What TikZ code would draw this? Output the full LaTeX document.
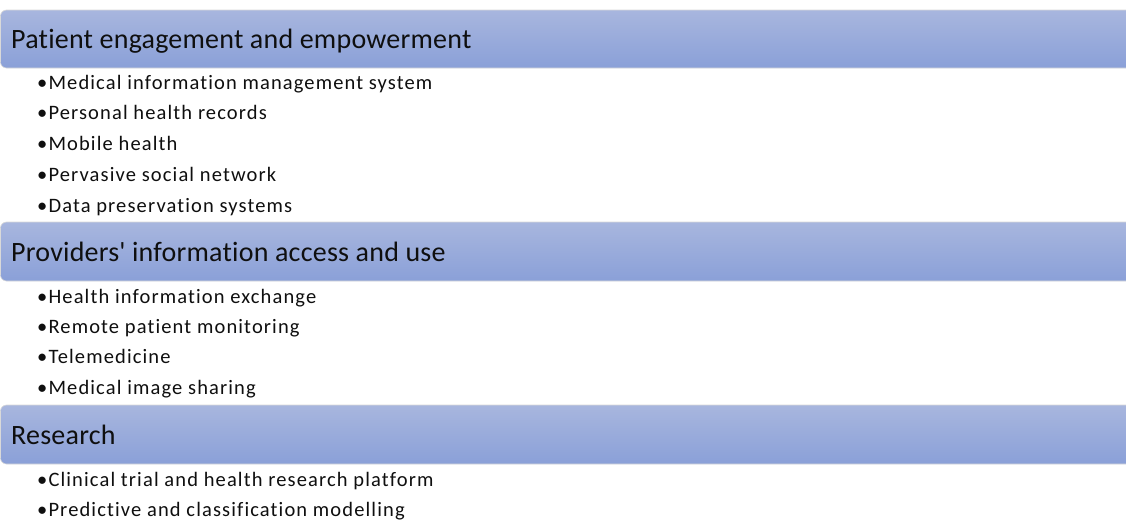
\documentclass[tikz,border=0pt]{standalone}
\usepackage{fontspec}
\setmainfont{Carlito}[Ligatures={NoCommon}]
\newfontfamily\headfont{Carlito}[Ligatures={NoCommon}, LetterSpace=0.8]
\newfontfamily\itemfont{Carlito}[Ligatures={NoCommon}, LetterSpace=5.5]
\definecolor{bartop}{RGB}{168,182,222}
\definecolor{barbot}{RGB}{138,160,216}
\definecolor{txt}{RGB}{15,15,15}
\tikzset{
  bar/.style={top color=bartop, bottom color=barbot, draw=white!85!black, line width=0.6pt, rounded corners=6pt},
  head/.style={anchor=base west, inner sep=0pt, text=txt, font=\headfont\fontsize{28}{30}\selectfont},
  item/.style={anchor=base west, inner sep=0pt, text=txt, font=\itemfont\fontsize{20.5}{22}\selectfont},
}
\begin{document}
\begin{tikzpicture}[x=1pt,y=-1pt]
\useasboundingbox (0,0) rectangle (1126,520);
\clip (0,0) rectangle (1126,520);
\fill[white] (0,0) rectangle (1126,520);
% bars
\shade[bar] (0.5,10) rectangle (1140,68);
\shade[bar] (0.5,222) rectangle (1140,281);
\shade[bar] (0.5,405) rectangle (1140,464);
% headers
\node[head] (h1) at (11,48) {Patient engagement and empowerment};
\node[head] (h2) at (11,261) {Providers\textquotesingle{} information access and use};
\node[head] (h3) at (11,444) {Research};
% items
\node[item] (a1) at (37,89) {•Medical information management system};
\node[item] (a2) at (37,119) {•Personal health records};
\node[item] (a3) at (37,150) {•Mobile health};
\node[item] (a4) at (37,181) {•Pervasive social network};
\node[item] (a5) at (37,212) {•Data preservation systems};
\node[item] (b1) at (37,303) {•Health information exchange};
\node[item] (b2) at (37,333) {•Remote patient monitoring};
\node[item] (b3) at (37,363) {•Telemedicine};
\node[item] (b4) at (37,394) {•Medical image sharing};
\node[item] (c1) at (37,486) {•Clinical trial and health research platform};
\node[item] (c2) at (37,516) {•Predictive and classification modelling};
\end{tikzpicture}
\end{document}
